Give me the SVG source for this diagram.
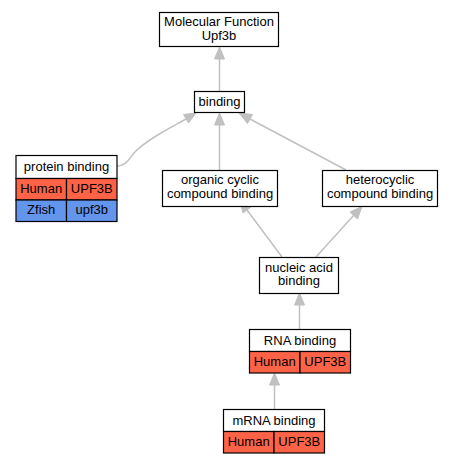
<svg xmlns="http://www.w3.org/2000/svg" width="453" height="464" viewBox="0 0 453 464">
<style>
text{font-family:"Liberation Sans",Arial,sans-serif;font-size:13px;fill:#000;text-anchor:middle}
.box{fill:#fff;stroke:#000;stroke-width:1.2}
.hum{fill:#ff6347;stroke:#000;stroke-width:1.2}
.fish{fill:#6495ed;stroke:#000;stroke-width:1.2}
.e{fill:none;stroke:#c0c0c0;stroke-width:1.5}
.ah{fill:#c0c0c0;stroke:#c0c0c0}
</style>
<rect width="453" height="464" fill="#fff"/>
<g id="edges">
<path class="e" d="M219.5,91 L219.5,59"/>
<polygon class="ah" points="214.5,59 219.5,47 224.5,59"/>
<path class="e" d="M117,166 C126,166 129,159 134,153 C146,140 170,128 186,119"/>
<polygon class="ah" points="183.5,114.5 196,113 188.5,123"/>
<path class="e" d="M219.5,170 L219.5,125"/>
<polygon class="ah" points="214.5,125 219.5,113 224.5,125"/>
<path class="e" d="M346,170 L250,119"/>
<polygon class="ah" points="247.5,123.5 239,113 252.5,114.5"/>
<path class="e" d="M282,257 L247,210"/>
<polygon class="ah" points="243,213 240,201 251,207"/>
<path class="e" d="M316,257 L354,215"/>
<polygon class="ah" points="350,212 362,206.5 357.5,219"/>
<path class="e" d="M299.5,329 L299.5,305"/>
<polygon class="ah" points="294.5,305 299.5,293 304.5,305"/>
<path class="e" d="M274.5,409 L274.5,385"/>
<polygon class="ah" points="269.5,385 274.5,373 279.5,385"/>
</g>
<g id="mf">
<rect class="box" x="159.5" y="12.5" width="119" height="34"/>
<text x="219" y="26">Molecular Function</text>
<text x="219" y="40">Upf3b</text>
</g>
<g id="binding">
<rect class="box" x="194.5" y="91.5" width="50" height="21"/>
<text x="219.5" y="106">binding</text>
</g>
<g id="protein">
<rect class="box" x="16" y="155.5" width="101" height="23"/>
<text x="66.5" y="170.5">protein binding</text>
<rect class="hum" x="16" y="178.5" width="50.5" height="21.5"/>
<rect class="hum" x="66.5" y="178.5" width="50.5" height="21.5"/>
<text x="41.2" y="192.7">Human</text>
<text x="91.8" y="192.7">UPF3B</text>
<rect class="fish" x="16" y="200" width="50.5" height="21.5"/>
<rect class="fish" x="66.5" y="200" width="50.5" height="21.5"/>
<text x="41.2" y="214">Zfish</text>
<text x="91.8" y="214">upf3b</text>
</g>
<g id="organic">
<rect class="box" x="162.5" y="170.5" width="115" height="36"/>
<text x="220" y="184.3">organic cyclic</text>
<text x="220" y="198">compound binding</text>
</g>
<g id="hetero">
<rect class="box" x="322.5" y="170.5" width="115" height="36"/>
<text x="380" y="184.3">heterocyclic</text>
<text x="380" y="198">compound binding</text>
</g>
<g id="nucleic">
<rect class="box" x="259.5" y="257.5" width="79" height="36"/>
<text x="299" y="271.5">nucleic acid</text>
<text x="299" y="285.2">binding</text>
</g>
<g id="rna">
<rect class="box" x="249.5" y="329.5" width="101" height="22"/>
<text x="300" y="344.5">RNA binding</text>
<rect class="hum" x="249.5" y="351.5" width="50.5" height="21.5"/>
<rect class="hum" x="300" y="351.5" width="50.5" height="21.5"/>
<text x="274.7" y="366">Human</text>
<text x="325.3" y="366">UPF3B</text>
</g>
<g id="mrna">
<rect class="box" x="223.5" y="409.5" width="101" height="22"/>
<text x="274" y="424.5">mRNA binding</text>
<rect class="hum" x="223.5" y="431.5" width="50.5" height="21.5"/>
<rect class="hum" x="274" y="431.5" width="50.5" height="21.5"/>
<text x="248.7" y="446">Human</text>
<text x="299.3" y="446">UPF3B</text>
</g>
</svg>
